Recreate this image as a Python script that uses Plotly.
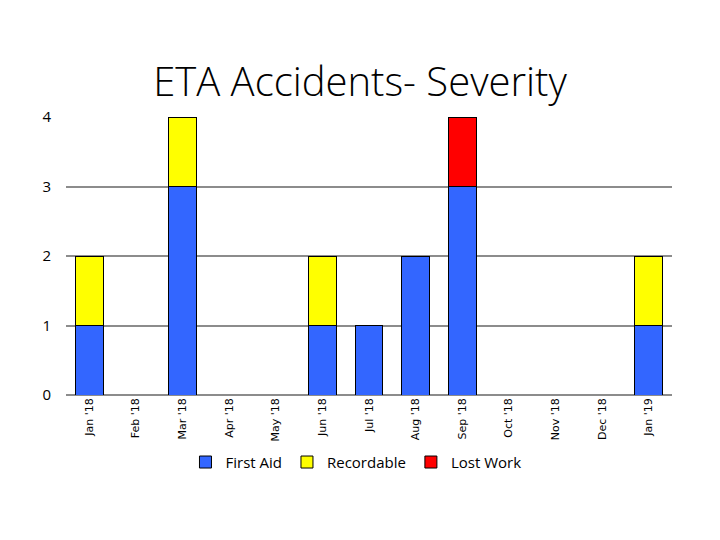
import plotly.graph_objects as go

months = ["Jan '18", "Feb '18", "Mar '18", "Apr '18", "May '18", "Jun '18", "Jul '18",
          "Aug '18", "Sep '18", "Oct '18", "Nov '18", "Dec '18", "Jan '19"]
first_aid = [1, 0, 3, 0, 0, 1, 1, 2, 3, 0, 0, 0, 1]
recordable = [1, 0, 1, 0, 0, 1, 0, 0, 0, 0, 0, 0, 1]
lost_work = [0, 0, 0, 0, 0, 0, 0, 0, 1, 0, 0, 0, 0]

fig = go.Figure()
for name, vals, col in [("First Aid", first_aid, "#3366FF"),
                        ("Recordable", recordable, "#FFFF00"),
                        ("Lost Work", lost_work, "#FF0000")]:
    fig.add_trace(go.Bar(x=months, y=vals, name=name,
                         marker=dict(color=col, line=dict(color="black", width=1))))

fig.update_layout(
    barmode="stack", bargap=0.4,
    width=720, height=540,
    margin=dict(l=58, r=56, t=109, b=153),
    paper_bgcolor="white", plot_bgcolor="white",
    title=dict(text="ETA Accidents- Severity", x=352 / 720, xanchor="center",
               y=1 - 74 / 540, yanchor="middle",
               font=dict(family="Open Sans", size=40, color="black", weight=300)),
    legend=dict(orientation="h", x=0.4785, xanchor="center", y=-0.242, yanchor="middle",
                font=dict(family="Open Sans", size=15, color="black"),
                traceorder="normal", itemwidth=30),
    showlegend=True,
)
fig.update_xaxes(tickangle=-90, tickfont=dict(family="DejaVu Sans", size=11, color="black"),
                 showline=False, showgrid=False, ticks="")
fig.update_yaxes(range=[0, 4], dtick=1, showgrid=True, gridcolor="#8c8c8c", gridwidth=2,
                 zeroline=True, zerolinecolor="#8c8c8c", zerolinewidth=2,
                 tickfont=dict(family="Open Sans", size=15, color="black"),
                 ticks="", ticklabelstandoff=14, showline=False)

fig.write_html("out.html")
